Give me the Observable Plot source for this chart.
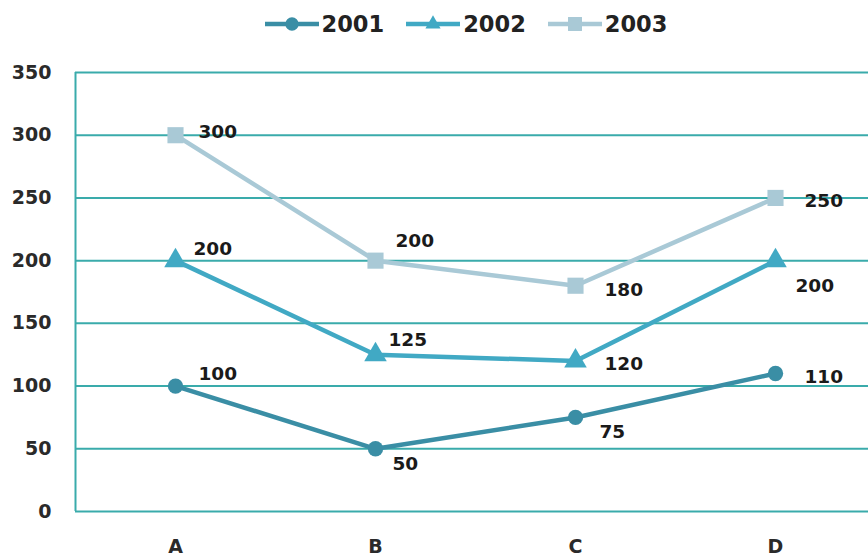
<!DOCTYPE html>
<html>
<head>
<meta charset="utf-8">
<script src="https://cdn.jsdelivr.net/npm/d3@7"></script>
<script src="https://cdn.jsdelivr.net/npm/@observablehq/plot@0.6"></script>
<style>
  html, body { margin: 0; padding: 0; background: #fff; }
  #legend { height: 45px; display: flex; justify-content: center; align-items: center; gap: 22px; font-family: "DejaVu Sans", sans-serif; font-weight: bold; font-size: 22.5px; color: #222; padding-left: 64px; padding-top: 3px; box-sizing: border-box; }
  #legend .item { display: flex; align-items: center; gap: 3px; }
  #chart svg { display: block; }
</style>
</head>
<body>
<div id="legend"></div>
<div id="chart"></div>
<script>
const categories = ["A", "B", "C", "D"];
const seriesNames = ["2001", "2002", "2003"];
const values2001 = [100, 50, 75, 110];
const values2002 = [200, 125, 120, 200];
const values2003 = [300, 200, 180, 250];
const yTicks = [0, 50, 100, 150, 200, 250, 300, 350];

const colors = ["#3a8ea5", "#41a9c4", "#a9c9d6"];
const symbols = ["circle", "triangle", "square"];
const symbolSizes = [185, 220, 260];
// label offsets [dx, dy] per series, per category
const labelOffsets = [
  [[23, -12], [17, 15], [24, 15], [29, 4]],
  [[18, -12], [13, -15], [29, 3], [20, 25]],
  [[23, -3], [20, -20], [29, 4], [29, 3]]
];

const seriesValues = [values2001, values2002, values2003];
const data = [];
seriesNames.forEach((s, i) => categories.forEach((c, j) => data.push({series: s, cat: c, value: seriesValues[i][j], si: i, cj: j})));

const font = '"DejaVu Sans", sans-serif';
const marks = [
  Plot.ruleY(yTicks, {stroke: "#3aabab", strokeWidth: 2}),
  Plot.ruleX([0], {x: () => categories[0], dx: -100, stroke: "#3aabab", strokeWidth: 2})
];
seriesNames.forEach((s, i) => {
  const d = data.filter(r => r.si === i);
  marks.push(Plot.line(d, {x: "cat", y: "value", stroke: colors[i], strokeWidth: 4.5}));
  marks.push(Plot.dot(d, {x: "cat", y: "value", fill: colors[i], symbol: () => symbols[i], r: Math.sqrt(symbolSizes[i] / Math.PI)}));
});
data.forEach(r => {
  const [dx, dy] = labelOffsets[r.si][r.cj];
  marks.push(Plot.text([r], {x: "cat", y: "value", text: d => String(d.value), dx, dy, textAnchor: "start", fill: "#1a1a1a", fontSize: 18.5, fontWeight: "bold", fontFamily: font}));
});

const chart = Plot.plot({
  width: 868,
  height: 515,
  marginTop: 27,
  marginBottom: 49,
  marginLeft: 75,
  marginRight: 0,
  style: {fontFamily: font, fontSize: "19px", fontWeight: "bold", color: "#2a2a2a", background: "#fff"},
  x: {type: "band", domain: categories, range: [75, 875], padding: 0, label: null, tickSize: 0, tickPadding: 28},
  y: {domain: [0, 350], ticks: yTicks, label: null, tickSize: 0, tickPadding: 24},
  marks
});
document.getElementById("chart").appendChild(chart);

// legend
const legendSymbols = [d3.symbolCircle, d3.symbolTriangle2 || d3.symbolTriangle, d3.symbolSquare];
const legend = document.getElementById("legend");
seriesNames.forEach((s, i) => {
  const item = document.createElement("div");
  item.className = "item";
  const ns = "http://www.w3.org/2000/svg";
  const svg = document.createElementNS(ns, "svg");
  svg.setAttribute("width", 54); svg.setAttribute("height", 22);
  const line = document.createElementNS(ns, "line");
  line.setAttribute("x1", 0); line.setAttribute("x2", 54); line.setAttribute("y1", 11); line.setAttribute("y2", 11);
  line.setAttribute("stroke", colors[i]); line.setAttribute("stroke-width", 4.5);
  svg.appendChild(line);
  const path = document.createElementNS(ns, "path");
  path.setAttribute("d", d3.symbol(legendSymbols[i], symbolSizes[i] * 0.75)());
  path.setAttribute("transform", "translate(27,11)");
  path.setAttribute("fill", colors[i]);
  svg.appendChild(path);
  item.appendChild(svg);
  const t = document.createElement("span");
  t.textContent = s;
  item.appendChild(t);
  legend.appendChild(item);
});
</script>
</body>
</html>
